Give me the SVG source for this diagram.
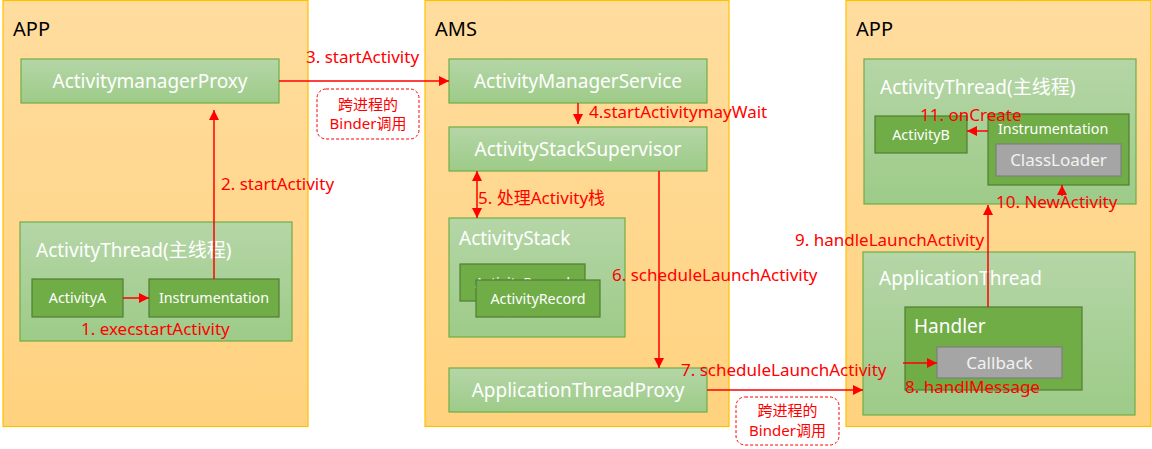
<svg xmlns="http://www.w3.org/2000/svg" width="1152" height="449" viewBox="0 0 1152 449">
<defs>
<linearGradient id="gPanel" x1="0" y1="0" x2="0" y2="1"><stop offset="0" stop-color="#FFDD9F"/><stop offset="1" stop-color="#FFD27E"/></linearGradient>
<linearGradient id="gGreen" x1="0" y1="0" x2="0" y2="1"><stop offset="0" stop-color="#B5D6A7"/><stop offset="1" stop-color="#9DCB88"/></linearGradient>
<marker id="ah" viewBox="0 0 10 10" refX="10" refY="5" markerWidth="10" markerHeight="10" markerUnits="userSpaceOnUse" orient="auto-start-reverse"><path d="M0,0 L10,5 L0,10 z" fill="#FF0000"/></marker>
<style>
.panel{fill:url(#gPanel);stroke:#FFC000;stroke-width:1.2}
.lg{fill:url(#gGreen);stroke:#70AD47;stroke-width:1.2}
.dg{fill:#70AD47;stroke:#507E32;stroke-width:1.2}
.gy{fill:#A5A5A5;stroke:#7F7F7F;stroke-width:1.2}
.dash{fill:#FFFFFF;stroke:#FF0000;stroke-width:1;stroke-dasharray:3,2}
text{font-family:"Noto Sans","Noto Sans CJK SC",sans-serif}
.title{font-size:20px;fill:#000000}
.big{font-size:19px;fill:#FFFFFF}
.mid{font-size:17px;fill:#F2F2F2}
.sm{font-size:14.3px;fill:#FFFFFF}
.red{font-size:17px;fill:#FF0000}
.note{font-size:15px;fill:#FF0000}
.c{text-anchor:middle}
.conn{stroke:#FF0000;stroke-width:1.5;fill:none}
</style>
</defs>
<rect width="1152" height="449" fill="#FFFFFF"/>

<g id="panel-app-left">
<rect class="panel" x="3" y="0.5" width="305" height="426"/>
<text class="title" x="13" y="36">APP</text>
</g>
<g id="panel-ams">
<rect class="panel" x="425" y="0.5" width="304" height="426"/>
<text class="title" x="435" y="36">AMS</text>
</g>
<g id="panel-app-right">
<rect class="panel" x="846" y="0.5" width="305" height="426"/>
<text class="title" x="856" y="36">APP</text>
</g>

<g id="activitymanagerproxy">
<rect class="lg" x="21" y="59" width="258" height="44"/>
<text class="big c" x="150" y="88">ActivitymanagerProxy</text>
</g>
<g id="activitythread-left">
<rect class="lg" x="20" y="222" width="272" height="119"/>
<text class="big" x="36" y="257">ActivityThread(主线程)</text>
</g>
<g id="activitya">
<rect class="dg" x="32" y="279" width="91" height="38"/>
<text class="sm c" x="77.5" y="303">ActivityA</text>
</g>
<g id="instrumentation-left">
<rect class="dg" x="149" y="279" width="130" height="38"/>
<text class="sm c" x="214" y="303">Instrumentation</text>
</g>

<g id="activitymanagerservice">
<rect class="lg" x="449" y="59" width="258" height="44"/>
<text class="big c" x="578" y="88">ActivityManagerService</text>
</g>
<g id="activitystacksupervisor">
<rect class="lg" x="449" y="127" width="258" height="44"/>
<text class="big c" x="578" y="156">ActivityStackSupervisor</text>
</g>
<g id="activitystack">
<rect class="lg" x="449" y="218" width="176" height="119"/>
<text class="big" x="459" y="245">ActivityStack</text>
</g>
<g id="activityrecord-back">
<rect class="dg" x="460" y="264" width="125" height="37"/>
<text class="sm c" x="522.5" y="288">ActivityRecord</text>
</g>
<g id="activityrecord-front">
<rect class="dg" x="476" y="280" width="124" height="37"/>
<text class="sm c" x="538" y="304">ActivityRecord</text>
</g>
<g id="applicationthreadproxy">
<rect class="lg" x="449" y="368" width="258" height="44"/>
<text class="big c" x="578" y="397">ApplicationThreadProxy</text>
</g>

<g id="activitythread-right">
<rect class="lg" x="864" y="59" width="272" height="145"/>
<text class="big" x="880" y="94">ActivityThread(主线程)</text>
</g>
<g id="activityb">
<rect class="dg" x="875" y="116" width="92" height="37"/>
<text class="sm c" x="921" y="140">ActivityB</text>
</g>
<g id="instrumentation-right">
<rect class="dg" x="988" y="114" width="141" height="71"/>
<text class="sm" x="998" y="134">Instrumentation</text>
</g>
<g id="classloader">
<rect class="gy" x="996" y="144" width="125" height="32"/>
<text class="mid c" x="1058.5" y="166">ClassLoader</text>
</g>
<g id="applicationthread">
<rect class="lg" x="863" y="252" width="272" height="163"/>
<text class="big" x="879" y="285">ApplicationThread</text>
</g>
<g id="handler">
<rect class="dg" x="905" y="307" width="177" height="83"/>
<text class="big" x="914" y="333">Handler</text>
</g>
<g id="callback">
<rect class="gy" x="937" y="347" width="125" height="31"/>
<text class="mid c" x="999.5" y="369">Callback</text>
</g>

<g id="notes">
<rect class="dash" x="317" y="89" width="102" height="50" rx="9"/>
<text class="note c" x="368" y="110">跨进程的</text>
<text class="note c" x="368" y="129">Binder调用</text>
<rect class="dash" x="736" y="397" width="103" height="48" rx="9"/>
<text class="note c" x="787.5" y="416">跨进程的</text>
<text class="note c" x="787.5" y="436">Binder调用</text>
</g>

<g id="connectors">
<line class="conn" x1="123" y1="298" x2="149" y2="298" marker-end="url(#ah)"/>
<text class="red" x="81" y="335">1. execstartActivity</text>
<line class="conn" x1="214" y1="279" x2="214" y2="110" marker-end="url(#ah)"/>
<text class="red" x="221" y="190">2. startActivity</text>
<line class="conn" x1="279" y1="81" x2="449" y2="81" marker-end="url(#ah)"/>
<text class="red" x="306" y="63">3. startActivity</text>
<line class="conn" x1="578" y1="103" x2="578" y2="124" marker-end="url(#ah)"/>
<text class="red" x="589" y="118">4.startActivitymayWait</text>
<line class="conn" x1="477" y1="171" x2="477" y2="218" marker-start="url(#ah)" marker-end="url(#ah)"/>
<text class="red" x="478" y="204">5. 处理Activity栈</text>
<line class="conn" x1="659" y1="171" x2="659" y2="368" marker-end="url(#ah)"/>
<text class="red" x="612" y="281">6. scheduleLaunchActivity</text>
<line class="conn" x1="707" y1="390" x2="863" y2="390" marker-end="url(#ah)"/>
<text class="red" x="681" y="376">7. scheduleLaunchActivity</text>
<line class="conn" x1="903" y1="363" x2="937" y2="363" marker-end="url(#ah)"/>
<text class="red" x="905" y="393">8. handlMessage</text>
<line class="conn" x1="988" y1="307" x2="988" y2="205" marker-end="url(#ah)"/>
<text class="red" x="795" y="246">9. handleLaunchActivity</text>
<line class="conn" x1="1062" y1="196" x2="1062" y2="185" marker-end="url(#ah)"/>
<text class="red" x="996" y="208">10. NewActivity</text>
<line class="conn" x1="988" y1="131" x2="967" y2="131" marker-end="url(#ah)"/>
<text class="red" x="920" y="121">11. onCreate</text>
</g>
</svg>
